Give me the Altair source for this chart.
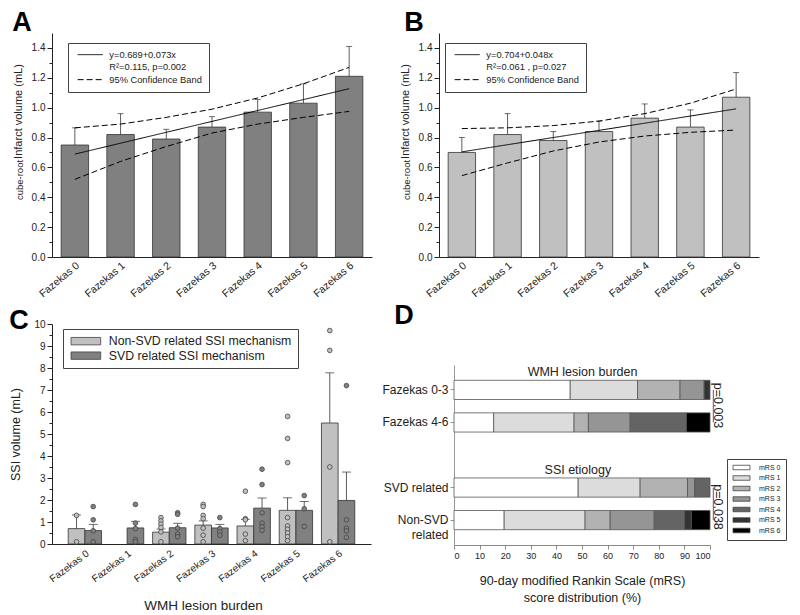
import altair as alt
import pandas as pd

FONT = "Liberation Sans"
INK = "#222222"

cats = ["Fazekas 0", "Fazekas 1", "Fazekas 2", "Fazekas 3", "Fazekas 4", "Fazekas 5", "Fazekas 6"]

# ---- Panel A ----
a_mean = [0.75, 0.82, 0.79, 0.87, 0.97, 1.03, 1.21]
a_err = [0.865, 0.96, 0.855, 0.94, 1.055, 1.16, 1.41]
a_fit = [0.689, 0.762, 0.835, 0.908, 0.981, 1.054, 1.127]
a_upper = [0.865, 0.89, 0.935, 0.99, 1.065, 1.16, 1.27]
a_lower = [0.52, 0.64, 0.74, 0.83, 0.89, 0.935, 0.975]
a_labels = ["y=0.689+0.073x", "R²=0.115, p=0.002", "95% Confidence Band"]

# ---- Panel B ----
b_mean = [0.70, 0.82, 0.78, 0.84, 0.93, 0.87, 1.07]
b_err = [0.80, 0.96, 0.84, 0.91, 1.025, 0.985, 1.235]
b_fit = [0.704, 0.752, 0.800, 0.848, 0.896, 0.944, 0.992]
b_upper = [0.86, 0.865, 0.88, 0.91, 0.96, 1.03, 1.125]
b_lower = [0.545, 0.63, 0.71, 0.77, 0.81, 0.835, 0.85]
b_labels = ["y=0.704+0.048x", "R²=0.061 , p=0.027", "95% Confidence Band"]

# ---- Panel C ----
c_mech = ["Non-SVD related SSI mechanism", "SVD related SSI mechanism"]
c_non_mean = [0.70, None, 0.54, 0.86, 0.82, 1.53, 5.50]
c_non_err = [1.32, None, 0.68, 1.05, 1.12, 2.10, 7.78]
c_svd_mean = [0.61, 0.73, 0.74, 0.73, 1.63, 1.53, 1.98]
c_svd_err = [0.89, 1.03, 0.94, 0.89, 2.09, 1.93, 3.27]
c_non_pts = [
    [1.3, 0.1],
    [],
    [1.2, 1.05, 0.9, 0.75, 0.55, 0.1],
    [1.8, 1.7, 1.3, 1.15, 0.72, 0.4, 0.1],
    [2.4, 1.15, 1.1, 0.45, 0.15],
    [5.8, 4.8, 3.7, 1.2, 0.82, 0.67, 0.5, 0.33, 0.15],
    [9.7, 8.8, 3.5, 0.1],
]
c_svd_pts = [
    [1.7, 1.1, 0.6, 0.1],
    [1.8, 0.95, 0.7, 0.2, 0.1],
    [1.42, 1.35, 0.72, 0.45, 0.33],
    [1.2, 0.7, 0.55, 0.4],
    [3.4, 2.7, 1.42, 0.95, 0.78, 0.62],
    [2.2, 1.6, 0.8],
    [7.2, 1.1, 0.72, 0.6, 0.3],
]

# ---- Panel D ----
d_groups = ["Fazekas 0-3", "Fazekas 4-6", "SVD related", "Non-SVD related"]
d_domain = ["Fazekas 0-3", "Fazekas 4-6", "gap", "SVD related", "Non-SVD related"]
mrs_labels = ["mRS 0", "mRS 1", "mRS 2", "mRS 3", "mRS 4", "mRS 5", "mRS 6"]
mrs_colors = ["#ffffff", "#dcdcdc", "#b2b2b2", "#959595", "#646464", "#333333", "#000000"]
d_pct = {
    "Fazekas 0-3": [45.4, 26.3, 16.6, 9.4, 0.0, 2.3, 0.0],
    "Fazekas 4-6": [15.5, 31.4, 5.6, 16.3, 22.0, 0.0, 9.2],
    "SVD related": [48.5, 24.2, 18.5, 2.8, 6.0, 0.0, 0.0],
    "Non-SVD related": [19.6, 31.6, 9.8, 17.2, 11.9, 2.6, 7.3],
}
d_group_titles = ["WMH lesion burden", "SSI etiology"]
d_group_title_rows = ["Fazekas 0-3", "SVD related"]
d_group_title_x = [50.2, 48.4]
p_texts = ["p=0.003", "p=0.038"]
p_rows = [("Fazekas 0-3", "Fazekas 4-6"), ("SVD related", "Non-SVD related")]
p_dx = [15.6, 19.5]


def letter_layer(letter, x, y):
    return alt.Chart(pd.DataFrame({"t": [letter]})).mark_text(
        font=FONT, fontSize=27, fontWeight="bold", align="center", baseline="middle", color="black"
    ).encode(text="t:N", x=alt.value(x), y=alt.value(y))


def infarct_panel(mean, err, fit, upper, lower, labels, bar_color, letter, lpos, legend_xy):
    bars_df = pd.DataFrame({"cat": cats, "mean": mean, "err": err})
    rows = []
    for name, vals, lab in (("fit", fit, labels[0]), ("upper", upper, labels[2]), ("lower", lower, labels[2])):
        for c, v in zip(cats, vals):
            rows.append({"cat": c, "v": v, "series": name, "lab": lab})
    lines_df = pd.DataFrame(rows)

    x_scale = alt.Scale(domain=cats, paddingInner=0.4, paddingOuter=0.2)
    x_axis = alt.Axis(title=None, labelAngle=-40, labelAlign="right", labelBaseline="top", labelFontSize=10.5,
                      labelPadding=3, ticks=False, domainColor=INK, labelColor=INK, labelOverlap=False)
    y_scale = alt.Scale(domain=[0, 1.5], nice=False, zero=True)
    y_axis = alt.Axis(
        title="Infarct volume (mL)", values=[i / 10 for i in range(15)],
        labelExpr="round(datum.value*10) % 2 == 0 ? format(datum.value, '.1f') : ''",
        tickSize={"condition": {"test": "round(datum.value*10) % 2 == 0", "value": 5}, "value": 3},
        labelOverlap=False,
        labelFontSize=10, labelColor=INK, tickColor=INK, domainColor=INK, grid=False,
        titleFontSize=11, titleFontWeight="normal", titleColor=INK, titleX=-29, titleY=78, labelPadding=2,
    )

    def X():
        return alt.X("cat:N", sort=cats, scale=x_scale, axis=x_axis)

    def Y(f):
        return alt.Y(f, scale=y_scale, axis=y_axis)

    bars = alt.Chart(bars_df).mark_bar(color=bar_color, stroke="#333333", strokeWidth=0.8).encode(
        x=X(), y=Y("mean:Q"))
    err_r = alt.Chart(bars_df).mark_rule(color="#333333", strokeWidth=0.8).encode(
        x=X(), y=Y("mean:Q"), y2="err:Q")
    caps = alt.Chart(bars_df).mark_tick(color="#333333", size=6, thickness=1).encode(
        x=X(), y=Y("err:Q"))
    lines = alt.Chart(lines_df).mark_line(color="black", strokeWidth=1).encode(
        x=X(), y=Y("v:Q"), detail="series:N",
        strokeDash=alt.StrokeDash(
            "lab:N",
            scale=alt.Scale(domain=labels, range=[[1, 0], [0, 100], [6, 3]]),
            legend=alt.Legend(
                title=None, orient="none", legendX=legend_xy[0], legendY=legend_xy[1],
                symbolType="M-1,0H11.5", symbolSize=16, symbolStrokeWidth=1, symbolStrokeColor="black",
                symbolFillColor="transparent", labelFontSize=9.3, labelColor=INK, labelOffset=25,
                padding=7, rowPadding=2.5, strokeColor="#444444", fillColor="white", labelLimit=300,
            ),
        ),
    )
    sub = alt.Chart(pd.DataFrame({"t": ["cube-root"]})).mark_text(
        font=FONT, fontSize=9.5, angle=270, align="center", baseline="alphabetic", color=INK
    ).encode(text="t:N", x=alt.value(-29.5), y=alt.value(147))
    return alt.layer(bars, err_r, caps, lines, sub, letter_layer(letter, lpos[0], lpos[1])).properties(
        width=320, height=224)


pa = infarct_panel(a_mean, a_err, a_fit, a_upper, a_lower, a_labels, "#808080", "A", (-30, -10.5), (16, 10))
pb = infarct_panel(b_mean, b_err, b_fit, b_upper, b_lower, b_labels, "#c0c0c0", "B", (-25, -10.5), (6, 10))

# ---- Panel C build ----
bar_rows = []
pt_rows = []
for i, c in enumerate(cats):
    for mech, means, errs, pts in ((c_mech[0], c_non_mean, c_non_err, c_non_pts),
                                   (c_mech[1], c_svd_mean, c_svd_err, c_svd_pts)):
        if means[i] is not None:
            bar_rows.append({"cat": c, "mech": mech, "mean": means[i], "err": errs[i]})
        for v in pts[i]:
            pt_rows.append({"cat": c, "mech": mech, "v": v})
c_bars_df = pd.DataFrame(bar_rows)
c_pts_df = pd.DataFrame(pt_rows)

xc_scale = alt.Scale(domain=cats, paddingInner=0.21, paddingOuter=0.384)
xc_axis = alt.Axis(title="WMH lesion burden", labelAngle=-37, labelAlign="right", labelBaseline="top",
                   labelFontSize=10, labelPadding=4, ticks=False, domainColor=INK, labelColor=INK,
                   labelOverlap=False,
                   titleFontSize=13.5, titleFontWeight="normal", titleColor=INK, titleX=151, titleY=54)
xo_scale = alt.Scale(domain=c_mech, paddingInner=0, paddingOuter=0)
fill_c = alt.Fill(
    "mech:N", scale=alt.Scale(domain=c_mech, range=["#c0c0c0", "#808080"]),
    legend=alt.Legend(
        title=None, orient="none", legendX=11, legendY=5,
        symbolType="M-1,-0.9H6.2V0.9H-1Z", symbolSize=68, symbolStrokeColor="#444444", symbolStrokeWidth=0.8,
        symbolOpacity=1, labelFontSize=12.3, labelColor=INK, labelOffset=27.5, padding=6, rowPadding=1.5,
        strokeColor="#444444", fillColor="white", labelLimit=400,
    ),
)
yc_scale = alt.Scale(domain=[0, 10], nice=False)
yc_axis = alt.Axis(
    title="SSI volume (mL)", values=[i * 0.5 for i in range(21)],
    labelExpr="datum.value % 1 == 0 ? format(datum.value, 'd') : ''",
    tickSize={"condition": {"test": "datum.value % 1 == 0", "value": 5}, "value": 3},
    labelOverlap=False,
    labelFontSize=10, labelColor=INK, tickColor=INK, domainColor=INK, grid=False,
    titleFontSize=12.5, titleFontWeight="normal", titleColor=INK, titleX=-30, labelPadding=2,
)


def XC():
    return alt.X("cat:N", sort=cats, scale=xc_scale, axis=xc_axis)


def XO():
    return alt.XOffset("mech:N", sort=c_mech, scale=xo_scale)


def YC(f):
    return alt.Y(f, scale=yc_scale, axis=yc_axis)


c_bars = alt.Chart(c_bars_df).mark_bar(stroke="#333333", strokeWidth=0.8).encode(
    x=XC(), xOffset=XO(), y=YC("mean:Q"), fill=fill_c)
c_err = alt.Chart(c_bars_df).mark_rule(color="#333333", strokeWidth=0.8).encode(
    x=XC(), xOffset=XO(), y=YC("mean:Q"), y2="err:Q")
c_caps = alt.Chart(c_bars_df).mark_tick(color="#333333", size=9, thickness=1).encode(
    x=XC(), xOffset=XO(), y=YC("err:Q"))
c_pts = alt.Chart(c_pts_df).mark_point(filled=True, size=22, stroke="#444444", strokeWidth=0.8, opacity=1).encode(
    x=XC(), xOffset=XO(), y=YC("v:Q"), fill=fill_c)
pc = alt.layer(c_bars, c_err, c_caps, c_pts, letter_layer("C", -33, -3)).properties(width=319, height=220)

# ---- Panel D build ----
d_rows = []
for g in d_groups:
    for j, (lab, p) in enumerate(zip(mrs_labels, d_pct[g])):
        if p > 0:
            d_rows.append({"grp": g, "mrs": lab, "i": j, "pct": p})
d_df = pd.DataFrame(d_rows)

yd_scale = alt.Scale(domain=d_domain, range=[41, 221], paddingInner=0.41, paddingOuter=0.47)
yd_axis = alt.Axis(
    title=None,
    labelExpr="datum.value == 'gap' ? '' : (datum.value == 'Non-SVD related' ? ['Non-SVD', 'related'] : datum.value)",
    tickOpacity={"condition": {"test": "datum.value == 'gap'", "value": 0}, "value": 1},
    labelFontSize=12, labelLineHeight=15, labelColor=INK, tickSize=4, tickColor="#999999",
    domainColor="#999999", labelPadding=2, labelOverlap=False,
)
xd_scale = alt.Scale(domain=[0, 100], nice=False)
xd_axis = alt.Axis(values=list(range(0, 101, 10)), labelFontSize=9, tickSize=4, tickColor="#888888",
                   domainColor="#888888", labelColor=INK, grid=False, labelOverlap=False,
                   title=["90-day modified Rankin Scale (mRS)", "score distribution (%)"],
                   titleFontSize=12.5, titleFontWeight="normal", titleColor=INK, titlePadding=14,
                   titleLineHeight=17)


def YD(f="grp:N"):
    return alt.Y(f, sort=d_domain, scale=yd_scale, axis=yd_axis)


def XD(f, **kw):
    return alt.X(f, scale=xd_scale, axis=xd_axis, **kw)


d_bars = alt.Chart(d_df).mark_bar(stroke="#555555", strokeWidth=0.8).encode(
    y=YD(), x=XD("pct:Q", stack="zero"),
    fill=alt.Fill("mrs:N", scale=alt.Scale(domain=mrs_labels, range=mrs_colors),
                  legend=alt.Legend(title=None, orient="none", legendX=273, legendY=135,
                                    symbolType="M-1,-0.9H5.8V0.9H-1Z", symbolSize=25,
                                    symbolStrokeColor="#444444", symbolStrokeWidth=0.8, symbolOpacity=1,
                                    labelFontSize=7, labelColor=INK, labelOffset=20, padding=5,
                                    rowPadding=1.5, strokeColor="#444444", fillColor="white")),
    order=alt.Order("i:Q"),
)
ann_df = pd.DataFrame({"grp": d_group_title_rows, "txt": d_group_titles, "x": d_group_title_x})
d_ann = alt.Chart(ann_df).mark_text(font=FONT, fontSize=12.5, dy=-18, baseline="middle", color=INK).encode(
    y=YD(), x=XD("x:Q"), text="txt:N")
d_layers = [d_bars, d_ann]
for k in range(2):
    pdf = pd.DataFrame({"grp": [p_rows[k][0]], "grp2": [p_rows[k][1]], "txt": [p_texts[k]],
                        "tx": [103.2], "ux": [101.3]})
    d_layers.append(alt.Chart(pdf).mark_text(font=FONT, fontSize=12.5, angle=90, dx=p_dx[k],
                                             baseline="middle", align="center", color=INK).encode(
        y=YD(), x=XD("tx:Q"), text="txt:N"))
    d_layers.append(alt.Chart(pdf).mark_rule(color="#333333", strokeWidth=0.8).encode(
        y=YD(), y2="grp2", x=XD("ux:Q")))
d_layers.append(letter_layer("D", -50, -8))
pdd = alt.layer(*d_layers).properties(width=256, height=221)

top = alt.hconcat(pa, pb, spacing=27).resolve_scale(
    strokeDash="independent", fill="independent").resolve_legend(strokeDash="independent", fill="independent")
bottom = alt.hconcat(pc, pdd, spacing=10).resolve_scale(
    strokeDash="independent", fill="independent").resolve_legend(strokeDash="independent", fill="independent")
chart = alt.vconcat(top, bottom, spacing=2).resolve_scale(
    strokeDash="independent", fill="independent").resolve_legend(strokeDash="independent", fill="independent"
).properties(
    padding={"left": 1, "top": 0, "right": 0, "bottom": 0}
).configure(font=FONT).configure_view(stroke=None).configure_axis(labelOverlap=False)

chart.save("out.html", embed_options={"renderer": "svg", "actions": False})
